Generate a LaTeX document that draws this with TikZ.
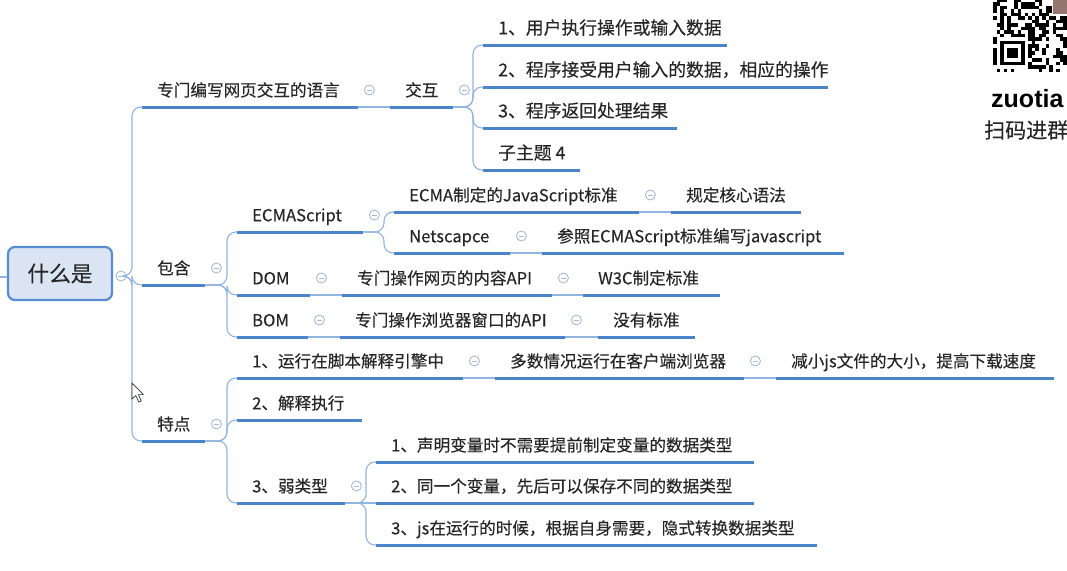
\documentclass[tikz,border=0pt]{standalone}
\usepackage{fontspec}
\setmainfont{Noto Sans CJK SC}[FakeBold=0.3]
\newfontfamily\lsans{Liberation Sans}
\usetikzlibrary{calc}

\definecolor{ul}{RGB}{76,132,202}
\definecolor{cn}{RGB}{146,180,224}
\definecolor{cc}{RGB}{168,186,214}
\definecolor{tx}{RGB}{38,38,38}
\definecolor{rootfill}{RGB}{218,228,243}
\definecolor{rootdraw}{RGB}{88,140,208}
\definecolor{avatar}{RGB}{150,118,112}

\tikzset{
  topic/.style={anchor=south west, inner xsep=15pt, inner ysep=7.5pt,
    text height=12pt, text depth=3pt, text=tx,
    font=\fontsize{16.6}{18}\selectfont},
  big/.style={font=\fontsize{17.8}{20}\selectfont},
  uline/.style={draw=ul, line width=3pt},
  conn/.style={draw=cn, line width=1.1pt, rounded corners=9pt},
  elbow/.style={to path={-| ([xshift=-10pt]\tikztotarget) -- (\tikztotarget)}},
  fold/.style={circle, draw=cc, fill=white, line width=0.9pt,
    minimum size=10pt, inner sep=0pt,
    path picture={\draw[cc, line width=0.9pt]
      ([xshift=-2.6pt]path picture bounding box.center) --
      ([xshift=2.6pt]path picture bounding box.center);}},
  rootbox/.style={rectangle, rounded corners=7pt, fill=rootfill, draw=rootdraw,
    line width=2.2pt, minimum width=104pt, minimum height=53pt, text=tx,
    font=\fontsize{21.7}{24}\selectfont},
}

\newcommand\topic[6][]{%
  \pgfmathsetmacro\tw{#4-#3-30}%
  \node[topic,#1] (#2) at (#3,#5) {\makebox[\tw pt][l]{#6}};
  \draw[uline] (#2.south west) -- (#2.south east);
}
\newcommand\fold[2]{%
  \node[fold] (#1) at ([xshift=11pt,yshift=17pt]#2.south east) {};
}

\begin{document}
\begin{tikzpicture}[x=1pt,y=-1pt]
\useasboundingbox (0,0) rectangle (1067,570);

% root
\node[rootbox] (root) at (60,273.5) {什么是};
\node[fold] (f0) at (121,276) {};
\coordinate (in) at (0,277);
\draw[conn] (in) -- (in -| root.west);

% topics
\topic{A}{142}{358}{107}{专门编写网页交互的语言}
\topic{A1}{390}{453}{107}{交互}
\topic[big]{A1a}{483}{727}{45}{1、用户执行操作或输入数据}
\topic[big]{A1b}{483}{828}{87}{2、程序接受用户输入的数据，相应的操作}
\topic[big]{A1c}{483}{677}{128}{3、程序返回处理结果}
\topic[big]{A1d}{483}{580}{170}{子主题 4}

\topic{B}{142}{205}{285}{包含}
\topic{B1}{237}{363}{232}{ECMAScript}
\topic{B1a}{394}{639}{212}{ECMA制定的JavaScript标准}
\topic{B1a1}{671}{801}{212}{规定核心语法}
\topic{B1b}{394}{510}{253}{Netscapce}
\topic{B1b1}{542}{844}{253}{参照ECMAScript标准编写javascript}
\topic{B2}{237}{310}{295}{DOM}
\topic{B2a}{342}{552}{295}{专门操作网页的内容API}
\topic{B2a1}{583}{720}{295}{W3C制定标准}
\topic{B3}{237}{308}{337}{BOM}
\topic{B3a}{340}{565}{337}{专门操作浏览器窗口的API}
\topic{B3a1}{598}{695}{337}{没有标准}

\topic{C}{142}{205}{441}{特点}
\topic{C1}{237}{463}{378}{1、运行在脚本解释引擎中}
\topic{C1a}{495}{744}{378}{多数情况运行在客户端浏览器}
\topic{C1a1}{776}{1054}{378}{减小js文件的大小，提高下载速度}
\topic{C2}{237}{362}{420}{2、解释执行}
\topic{C3}{237}{345}{503}{3、弱类型}
\topic{C3a}{376}{754}{462}{1、声明变量时不需要提前制定变量的数据类型}
\topic{C3b}{376}{754}{503}{2、同一个变量，先后可以保存不同的数据类型}
\topic{C3c}{376}{817}{545}{3、js在运行的时候，根据自身需要，隐式转换数据类型}

% connectors: forks
\foreach \c in {A,B,C} \draw[conn] (f0.east) to[elbow] (\c.south west);
\foreach \c in {A1a,A1b,A1c,A1d} \draw[conn] (A1.south east) to[elbow] (\c.south west);
\foreach \c in {B1,B2,B3} \draw[conn] (B.south east) to[elbow] (\c.south west);
\foreach \c in {B1a,B1b} \draw[conn] (B1.south east) to[elbow] (\c.south west);
\foreach \c in {C1,C2,C3} \draw[conn] (C.south east) to[elbow] (\c.south west);
\foreach \c in {C3a,C3c} \draw[conn] (C3.south east) to[elbow] (\c.south west);
% connectors: straight (same row)
\draw[conn] (A.south east) -- (A1.south west);
\draw[conn] (B1a.south east) -- (B1a1.south west);
\draw[conn] (B1b.south east) -- (B1b1.south west);
\draw[conn] (B2.south east) -- (B2a.south west);
\draw[conn] (B2a.south east) -- (B2a1.south west);
\draw[conn] (B3.south east) -- (B3a.south west);
\draw[conn] (B3a.south east) -- (B3a1.south west);
\draw[conn] (C1.south east) -- (C1a.south west);
\draw[conn] (C1a.south east) -- (C1a1.south west);
\draw[conn] (C3.south east) -- (C3b.south west);

% fold markers
\fold{fA}{A}
\fold{fA1}{A1}
\fold{fB}{B}
\fold{fB1}{B1}
\fold{fB1a}{B1a}
\fold{fB1b}{B1b}
\fold{fB2}{B2}
\fold{fB2a}{B2a}
\fold{fB3}{B3}
\fold{fB3a}{B3a}
\fold{fC}{C}
\fold{fC1}{C1}
\fold{fC1a}{C1a}
\fold{fC3}{C3}

% QR code (top right, cut by the frame)
\begin{scope}
\clip (990,0) rectangle (1067,73);
\pgfmathsetseed{42}
\foreach \i in {0,...,21}{
  \foreach \j in {0,...,21}{
    \pgfmathrandominteger{\r}{0}{1}
    \pgfmathtruncatemacro\ok{(\r==1)&&!((\i>0)&&(\i<10)&&(\j>0)&&(\j<10))}
    \ifnum\ok=1
      \fill[black] (993+\i*3.5,68.5-\j*3.5) rectangle ++(3.5,3.5);
    \fi
  }
}
\fill[black] (1000,40.5) rectangle (1024.5,65);
\fill[white] (1003.5,44) rectangle (1021,61.5);
\fill[black] (1007,47.5) rectangle (1017.5,58);
\fill[white] (1052,0) rectangle (1067,16);
\fill[avatar] (1053,0) rectangle (1067,14);
\end{scope}
\node[anchor=base west, inner sep=0pt, font=\lsans\bfseries\fontsize{25}{28}\selectfont, text=black] (zt) at (991,107) {zuotia};
\node[anchor=west, inner sep=0pt, font=\fontsize{21}{23}\selectfont, text=tx] (jq) at (984,130) {扫码进群};

% mouse pointer
\draw[fill=white, draw=black!80, line width=0.7pt, line join=round]
  (132,383) -- (132,399) -- (135.8,395.6) -- (138.8,402) -- (141.3,400.9)
  -- (138.4,394.6) -- (143.4,394.6) -- cycle;
\end{tikzpicture}
\end{document}
